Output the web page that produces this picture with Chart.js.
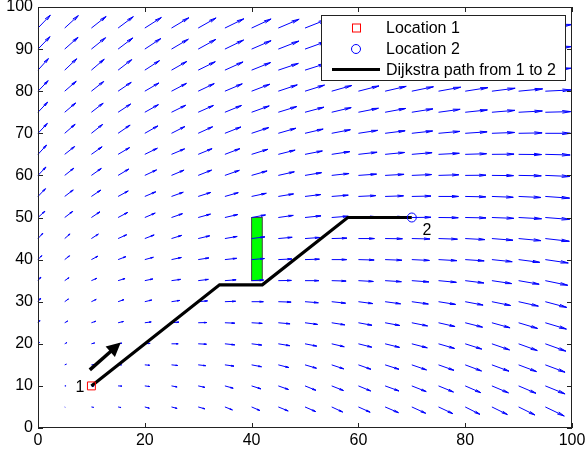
<!DOCTYPE html>
<html>
<head>
<meta charset="utf-8">
<script src="https://cdn.jsdelivr.net/npm/chart.js@4.4.0/dist/chart.umd.min.js"></script>
<style>
  html, body { margin: 0; padding: 0; background: #fff; }
  #wrap { width: 585px; height: 454px; }
</style>
</head>
<body>
<div id="wrap"><canvas id="chart"></canvas></div>
<script>
// quiver grid (tails of the arrows)
const gridX = [0, 5, 10, 15, 20, 25, 30, 35, 40, 45, 50, 55, 60, 65, 70, 75, 80, 85, 90, 95];
const gridY = [95, 90, 85, 80, 75, 70, 65, 60, 55, 50, 45, 40, 35, 30, 25, 20, 15, 10, 5];

// arrow components in axis units, one row per gridY value
const fieldU = [
  [2.3, 2.55, 2.75, 2.85, 3.1, 3.25, 3.35, 3.55, 3.65, 3.9, 4.0, 4.1, 4.2, 4.3, 4.4, 4.5, 4.6, 4.7, 4.8, 5.0],
  [2.25, 2.5, 2.65, 2.75, 3.0, 3.15, 3.3, 3.5, 3.65, 3.85, 3.95, 4.05, 4.15, 4.25, 4.35, 4.45, 4.55, 4.65, 4.75, 4.9],
  [1.95, 2.25, 2.4, 2.55, 2.75, 2.85, 3.2, 3.4, 3.55, 3.75, 3.85, 3.95, 4.05, 4.15, 4.25, 4.35, 4.45, 4.55, 4.65, 4.85],
  [1.9, 2.15, 2.3, 2.45, 2.65, 2.8, 3.0, 3.25, 3.4, 3.55, 3.65, 3.75, 3.85, 3.95, 4.05, 4.15, 4.25, 4.35, 4.5, 4.8],
  [1.8, 2.05, 2.2, 2.35, 2.55, 2.65, 2.85, 3.1, 3.3, 3.45, 3.55, 3.65, 3.75, 3.85, 3.95, 4.05, 4.15, 4.3, 4.45, 4.75],
  [1.75, 1.95, 2.1, 2.25, 2.45, 2.5, 2.7, 3.0, 3.2, 3.3, 3.4, 3.5, 3.6, 3.75, 3.9, 4.0, 4.1, 4.25, 4.4, 4.7],
  [1.6, 1.85, 2.0, 2.15, 2.35, 2.45, 2.6, 2.8, 3.05, 3.15, 3.25, 3.4, 3.5, 3.65, 3.8, 3.9, 4.0, 4.15, 4.3, 4.65],
  [1.5, 1.7, 1.85, 2.0, 2.2, 2.35, 2.5, 2.7, 2.9, 3.0, 3.1, 3.25, 3.4, 3.55, 3.7, 3.8, 3.9, 4.05, 4.25, 4.6],
  [1.4, 1.6, 1.75, 1.9, 2.05, 2.2, 2.35, 2.5, 2.75, 2.85, 2.95, 3.1, 3.25, 3.45, 3.6, 3.75, 3.85, 4.0, 4.2, 4.55],
  [1.3, 1.5, 1.6, 1.8, 1.95, 2.05, 2.3, 2.4, 2.6, 2.8, 3.0, 3.1, 3.25, 3.45, 3.6, 3.7, 3.9, 4.1, 4.3, 4.55],
  [0.9, 1.0, 1.3, 1.6, 1.75, 1.9, 2.15, 2.3, 2.5, 2.6, 2.75, 2.85, 3.0, 3.25, 3.4, 3.55, 3.7, 3.95, 4.2, 4.5],
  [0.7, 0.9, 1.2, 1.45, 1.6, 1.85, 2.0, 2.2, 2.4, 2.55, 2.7, 2.8, 2.95, 3.15, 3.3, 3.45, 3.55, 3.8, 3.95, 4.3],
  [0.55, 0.8, 1.0, 1.3, 1.5, 1.7, 1.9, 2.1, 2.25, 2.45, 2.6, 2.7, 2.8, 3.05, 3.2, 3.35, 3.5, 3.7, 3.85, 4.2],
  [0.5, 0.7, 0.9, 1.1, 1.3, 1.55, 1.75, 2.0, 2.2, 2.4, 2.5, 2.6, 2.7, 2.9, 3.1, 3.2, 3.35, 3.5, 3.7, 4.0],
  [0.35, 0.55, 0.8, 1.0, 1.2, 1.4, 1.6, 1.85, 2.0, 2.2, 2.35, 2.45, 2.55, 2.75, 2.95, 3.1, 3.25, 3.4, 3.55, 3.95],
  [0.25, 0.4, 0.6, 0.7, 1.0, 1.25, 1.55, 1.85, 1.9, 2.15, 2.2, 2.35, 2.5, 2.7, 2.9, 3.0, 3.1, 3.3, 3.5, 3.85],
  [0.1, 0.3, 0.45, 0.65, 0.9, 1.15, 1.4, 1.7, 1.85, 2.0, 2.15, 2.25, 2.35, 2.6, 2.75, 2.9, 3.05, 3.2, 3.35, 3.7],
  [0, 0.25, 0.45, 0.7, 0.9, 1.05, 1.25, 1.55, 1.75, 1.9, 2.05, 2.2, 2.3, 2.6, 2.7, 2.8, 2.9, 3.1, 3.25, 3.7],
  [0, 0.1, 0.4, 0.55, 0.85, 1.05, 1.25, 1.4, 1.55, 1.85, 2.0, 2.05, 2.2, 2.5, 2.6, 2.7, 2.75, 2.9, 3.05, 3.55]
];
const fieldV = [
  [3.05, 2.95, 2.75, 2.7, 2.5, 2.45, 2.4, 2.2, 2.15, 2.1, 2.0, 1.9, 1.8, 1.65, 1.55, 1.4, 1.3, 1.15, 1.0, 0.85],
  [2.95, 2.8, 2.7, 2.65, 2.5, 2.35, 2.3, 2.15, 2.0, 1.9, 1.8, 1.7, 1.6, 1.45, 1.35, 1.2, 1.05, 0.9, 0.75, 0.6],
  [2.75, 2.7, 2.6, 2.5, 2.25, 2.05, 2.0, 1.95, 1.8, 1.6, 1.55, 1.45, 1.35, 1.25, 1.1, 0.95, 0.85, 0.7, 0.55, 0.45],
  [2.5, 2.35, 2.3, 2.1, 1.95, 1.85, 1.8, 1.75, 1.65, 1.5, 1.45, 1.35, 1.25, 1.15, 1.05, 0.95, 0.85, 0.7, 0.55, 0.3],
  [2.4, 2.2, 2.15, 1.95, 1.8, 1.65, 1.6, 1.6, 1.5, 1.35, 1.2, 1.1, 0.95, 0.9, 0.8, 0.7, 0.55, 0.45, 0.3, 0.15],
  [2.35, 2.15, 2.1, 1.95, 1.75, 1.6, 1.55, 1.5, 1.35, 1.2, 1.0, 0.85, 0.7, 0.6, 0.55, 0.45, 0.35, 0.2, 0.1, 0.0],
  [2.2, 1.85, 1.8, 1.6, 1.45, 1.3, 1.35, 1.35, 1.2, 1.0, 0.8, 0.65, 0.5, 0.45, 0.4, 0.25, 0.15, 0.05, -0.05, -0.15],
  [2.0, 1.7, 1.65, 1.5, 1.3, 1.25, 1.25, 1.2, 1.05, 0.85, 0.65, 0.45, 0.3, 0.25, 0.2, 0.15, 0.05, -0.05, -0.1, -0.25],
  [1.85, 1.55, 1.5, 1.3, 1.1, 1.0, 0.95, 0.9, 0.75, 0.6, 0.45, 0.3, 0.2, 0.15, 0.1, 0.0, -0.1, -0.2, -0.25, -0.4],
  [1.5, 1.45, 1.35, 1.2, 1.05, 0.9, 0.8, 0.7, 0.6, 0.5, 0.4, 0.3, 0.2, 0.15, 0.05, -0.05, -0.1, -0.2, -0.3, -0.45],
  [1.25, 1.1, 1.05, 0.9, 0.85, 0.75, 0.65, 0.5, 0.4, 0.3, 0.25, 0.1, 0.0, -0.05, -0.1, -0.15, -0.25, -0.4, -0.5, -0.65],
  [0.95, 0.9, 0.8, 0.7, 0.55, 0.5, 0.4, 0.3, 0.25, 0.15, 0.1, 0.0, -0.1, -0.15, -0.2, -0.25, -0.3, -0.5, -0.65, -0.8],
  [0.85, 0.7, 0.55, 0.5, 0.4, 0.3, 0.3, 0.2, 0.15, 0.05, 0.0, -0.1, -0.2, -0.25, -0.3, -0.4, -0.55, -0.7, -0.85, -1.1],
  [0.8, 0.65, 0.55, 0.5, 0.4, 0.3, 0.2, 0.1, 0.0, -0.1, -0.25, -0.35, -0.45, -0.5, -0.55, -0.65, -0.8, -0.9, -1.05, -1.35],
  [0.55, 0.4, 0.35, 0.3, 0.2, 0.15, 0.05, -0.1, -0.15, -0.25, -0.4, -0.5, -0.6, -0.65, -0.75, -0.9, -1.05, -1.2, -1.35, -1.5],
  [0.3, 0.3, 0.2, 0.15, 0.1, 0.0, -0.1, -0.25, -0.3, -0.45, -0.55, -0.7, -0.8, -0.85, -0.95, -1.1, -1.25, -1.45, -1.6, -1.75],
  [0.1, 0.15, 0.05, 0.0, -0.1, -0.15, -0.2, -0.3, -0.45, -0.65, -0.8, -0.95, -1.05, -1.05, -1.2, -1.3, -1.45, -1.5, -1.6, -1.75],
  [0, 0, -0.05, -0.05, -0.15, -0.25, -0.35, -0.55, -0.7, -0.85, -1.05, -1.1, -1.2, -1.2, -1.35, -1.45, -1.6, -1.65, -1.75, -1.9],
  [0, -0.05, -0.1, -0.15, -0.3, -0.35, -0.45, -0.7, -0.85, -0.95, -1.1, -1.2, -1.25, -1.35, -1.5, -1.6, -1.75, -1.8, -1.9, -2.15]
];

const pathX = [10, 34, 42, 58, 70];
const pathY = [10, 34, 34, 50, 50];
const location1 = [10, 10];
const location2 = [70, 50];
const obstacleX = [40, 42];
const obstacleY = [35, 50];
const hintFrom = [9.7, 13.8];
const hintTo = [15.5, 20.3];
const pointLabels = [
  { text: "1", x: 7, y: 9.5 },
  { text: "2", x: 72, y: 47 }
];
const legendLabels = ["Location 1", "Location 2", "Dijkstra path from 1 to 2"];

const FONT = "16px 'Liberation Sans', Arial, Helvetica, sans-serif";
const headA = 0.33, headB = 0.2;

// shafts and heads of the quiver arrows as one broken line
let arrowPts = [];
gridY.forEach((y, r) => {
  gridX.forEach((x, c) => {
    let u = fieldU[r][c], v = fieldV[r][c];
    if (!u && !v) return;
    let tx = x + u, ty = y + v;
    arrowPts.push({ x: x, y: y }, { x: tx, y: ty }, { x: tx, y: NaN });
    arrowPts.push(
      { x: tx - headA * (u + headB * v), y: ty - headA * (v - headB * u) },
      { x: tx, y: ty },
      { x: tx - headA * (u - headB * v), y: ty - headA * (v + headB * u) },
      { x: tx, y: NaN }
    );
  });
});

const decorPlugin = {
  id: "decor",
  beforeDatasetsDraw(chart) {
    // green obstacle under everything else
    const ctx = chart.ctx;
    const xs = chart.scales.x, ys = chart.scales.y;
    let l = xs.getPixelForValue(obstacleX[0]), r = xs.getPixelForValue(obstacleX[1]);
    let t = ys.getPixelForValue(obstacleY[1]), b = ys.getPixelForValue(obstacleY[0]);
    ctx.save();
    ctx.fillStyle = "#00ff00";
    ctx.fillRect(l, t, r - l, b - t);
    ctx.strokeStyle = "#444";
    ctx.lineWidth = 1;
    ctx.strokeRect(l, t, r - l, b - t);
    ctx.restore();
  },
  afterDatasetsDraw(chart) {
    const ctx = chart.ctx;
    const xs = chart.scales.x, ys = chart.scales.y;
    const a = chart.chartArea;
    ctx.save();

    // axes box with inward ticks
    ctx.strokeStyle = "#222";
    ctx.lineWidth = 1;
    ctx.strokeRect(a.left + 0.5, a.top + 0.5, a.right - a.left - 1, a.bottom - a.top - 1);
    ctx.beginPath();
    xs.ticks.forEach((t) => {
      let px = Math.round(xs.getPixelForValue(t.value)) + 0.5;
      ctx.moveTo(px, a.bottom); ctx.lineTo(px, a.bottom - 5);
      ctx.moveTo(px, a.top); ctx.lineTo(px, a.top + 5);
    });
    ys.ticks.forEach((t) => {
      let py = Math.round(ys.getPixelForValue(t.value)) + 0.5;
      ctx.moveTo(a.left, py); ctx.lineTo(a.left + 5, py);
      ctx.moveTo(a.right, py); ctx.lineTo(a.right - 5, py);
    });
    ctx.stroke();

    // thick hint arrow
    let x0 = xs.getPixelForValue(hintFrom[0]), y0 = ys.getPixelForValue(hintFrom[1]);
    let x1 = xs.getPixelForValue(hintTo[0]), y1 = ys.getPixelForValue(hintTo[1]);
    let len = Math.hypot(x1 - x0, y1 - y0);
    let dx = (x1 - x0) / len, dy = (y1 - y0) / len;
    let hl = 14, hw = 7;
    let bx = x1 - dx * hl, by = y1 - dy * hl;
    ctx.strokeStyle = "#000";
    ctx.lineWidth = 3.5;
    ctx.beginPath();
    ctx.moveTo(x0, y0);
    ctx.lineTo(bx + dx * 2, by + dy * 2);
    ctx.stroke();
    ctx.fillStyle = "#000";
    ctx.beginPath();
    ctx.moveTo(x1, y1);
    ctx.lineTo(bx - dy * hw, by + dx * hw);
    ctx.lineTo(bx + dy * hw, by - dx * hw);
    ctx.closePath();
    ctx.fill();

    // point labels
    ctx.font = FONT;
    ctx.fillStyle = "#000";
    ctx.textAlign = "left";
    ctx.textBaseline = "middle";
    pointLabels.forEach((p) => {
      ctx.fillText(p.text, xs.getPixelForValue(p.x), ys.getPixelForValue(p.y));
    });

    // legend box
    let lw = 244, lh = 65;
    let lx = Math.round(a.right - 7 - lw), ly = Math.round(a.top + 8);
    ctx.fillStyle = "#fff";
    ctx.fillRect(lx, ly, lw, lh);
    ctx.strokeStyle = "#222";
    ctx.lineWidth = 1;
    ctx.strokeRect(lx + 0.5, ly + 0.5, lw, lh);
    let rowY = [ly + 12.5, ly + 34, ly + 54.5];
    let mx = lx + 35;
    ctx.strokeStyle = "#ff0000";
    ctx.lineWidth = 1;
    ctx.strokeRect(mx - 3.5, rowY[0] - 3.5, 8, 8);
    ctx.strokeStyle = "#0000ff";
    ctx.beginPath();
    ctx.arc(mx, rowY[1], 4.5, 0, Math.PI * 2);
    ctx.stroke();
    ctx.strokeStyle = "#000";
    ctx.lineWidth = 3.2;
    ctx.beginPath();
    ctx.moveTo(lx + 11, rowY[2]);
    ctx.lineTo(lx + 59, rowY[2]);
    ctx.stroke();
    ctx.fillStyle = "#000";
    ctx.font = FONT;
    ctx.textAlign = "left";
    ctx.textBaseline = "middle";
    legendLabels.forEach((t, i) => ctx.fillText(t, lx + 65, rowY[i] + 1));
    ctx.restore();
  }
};

new Chart(document.getElementById("chart"), {
  type: "line",
  data: {
    datasets: [
      {
        label: legendLabels[0],
        data: [{ x: location1[0], y: location1[1] }],
        showLine: false,
        pointStyle: "rect",
        pointRadius: 5.6,
        pointBorderWidth: 1,
        pointBorderColor: "#ff0000",
        pointBackgroundColor: "rgba(0,0,0,0)"
      },
      {
        label: legendLabels[1],
        data: [{ x: location2[0], y: location2[1] }],
        showLine: false,
        pointStyle: "circle",
        pointRadius: 4.5,
        pointBorderWidth: 1,
        pointBorderColor: "#0000ff",
        pointBackgroundColor: "rgba(0,0,0,0)"
      },
      {
        label: legendLabels[2],
        data: pathX.map((x, i) => ({ x: x, y: pathY[i] })),
        borderColor: "#000",
        borderWidth: 3.2,
        borderJoinStyle: "miter",
        pointRadius: 0,
        tension: 0
      },
      {
        label: "field",
        data: arrowPts,
        borderColor: "#0000ff",
        borderWidth: 1,
        pointRadius: 0,
        tension: 0,
        spanGaps: false,
        clip: false
      }
    ]
  },
  options: {
    responsive: true,
    maintainAspectRatio: false,
    animation: false,
    devicePixelRatio: 1,
    layout: { padding: { top: 7, right: 13, left: 0, bottom: 0 } },
    plugins: {
      legend: { display: false },
      tooltip: { enabled: false }
    },
    scales: {
      x: {
        type: "linear",
        min: 0,
        max: 100,
        grid: { display: false, drawTicks: false },
        border: { display: false },
        ticks: {
          stepSize: 20,
          color: "#000",
          padding: 3,
          maxRotation: 0,
          font: { family: "'Liberation Sans', Arial, Helvetica, sans-serif", size: 16 }
        },
        afterFit: (s) => { s.height = 26; s.paddingLeft = 0; s.paddingRight = 0; }
      },
      y: {
        type: "linear",
        min: 0,
        max: 100,
        grid: { display: false, drawTicks: false },
        border: { display: false },
        ticks: {
          stepSize: 10,
          color: "#000",
          padding: 5,
          font: { family: "'Liberation Sans', Arial, Helvetica, sans-serif", size: 16 }
        },
        afterFit: (s) => { s.width = 38; s.paddingTop = 0; s.paddingBottom = 0; }
      }
    }
  },
  plugins: [decorPlugin]
});
</script>
</body>
</html>
